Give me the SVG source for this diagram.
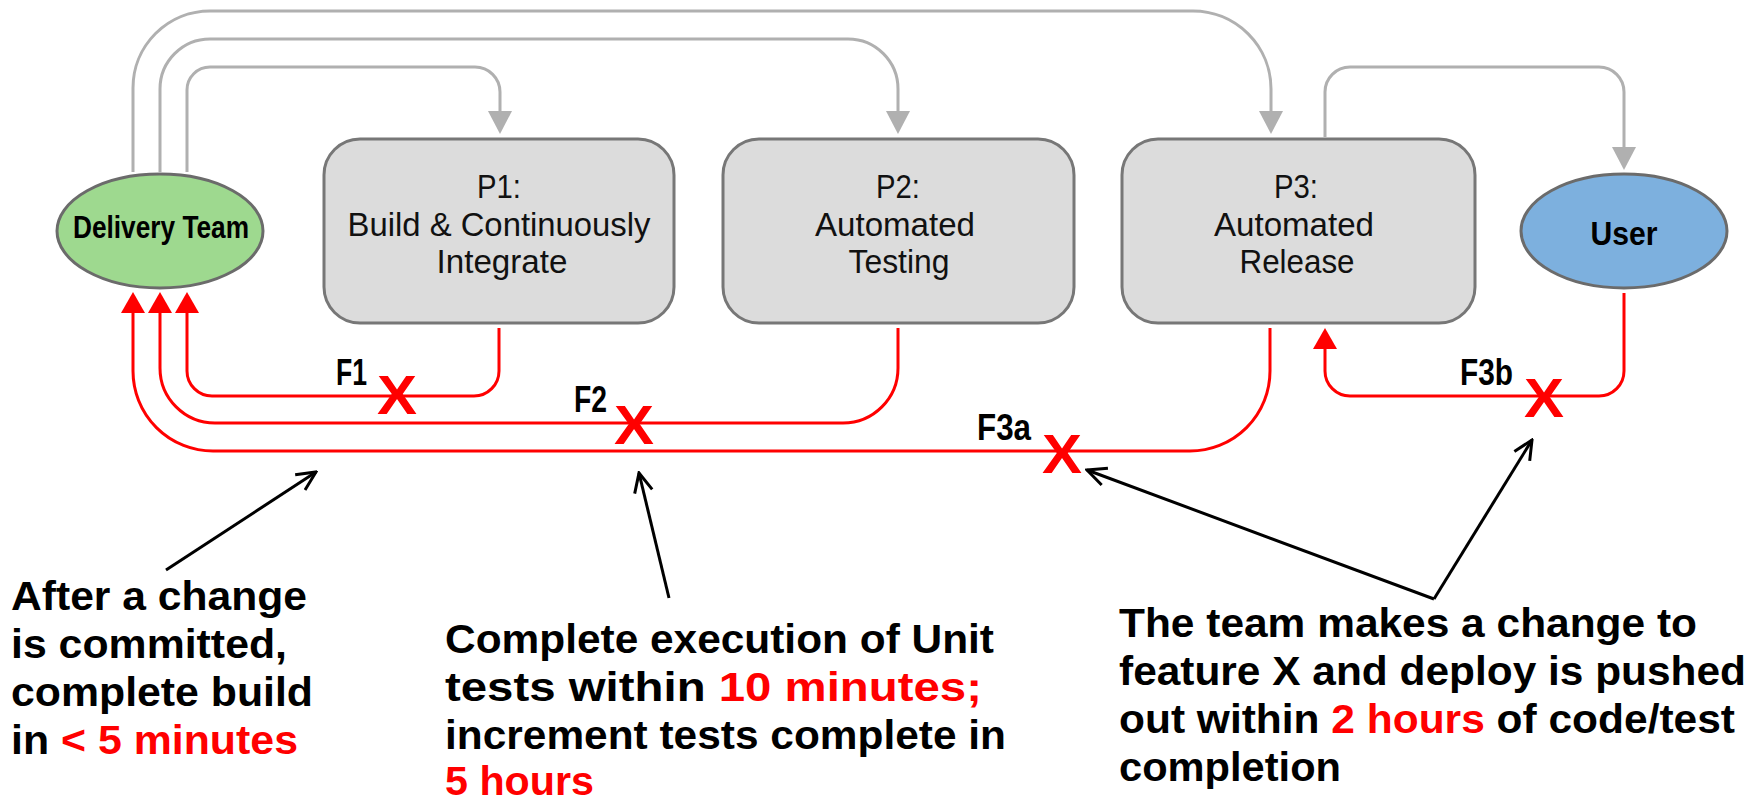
<svg xmlns="http://www.w3.org/2000/svg" width="1764" height="802" viewBox="0 0 1764 802">
<style>
text{font-family:"Liberation Sans",Arial,sans-serif;}
.box{fill:#dcdcdc;stroke:#777777;stroke-width:3;}
.ell{stroke:#6b6b6b;stroke-width:3;}
.ptxt{font-size:33px;fill:#111;text-anchor:middle;}
.ntxt{font-size:31px;font-weight:bold;fill:#000;text-anchor:middle;}
.gray{fill:none;stroke:#b0b0b0;stroke-width:3;marker-end:url(#ga);}
.red{fill:none;stroke:#ff0000;stroke-width:3;marker-end:url(#ra);}
.blk{fill:none;stroke:#000;stroke-width:3;marker-end:url(#ba);}
.flbl{font-size:36px;font-weight:bold;fill:#000;}
.xm{font-size:56px;font-weight:bold;fill:#ff0000;text-anchor:middle;}
.note{font-size:41px;font-weight:bold;fill:#000;}
.hl{fill:#ff0000;}
</style>
<defs>
<marker id="ga" markerUnits="userSpaceOnUse" viewBox="0 0 23 24" markerWidth="23" markerHeight="24" refX="13" refY="12" orient="auto"><path d="M0,0 L23,12 L0,24 Z" fill="#b0b0b0"/></marker>
<marker id="ra" markerUnits="userSpaceOnUse" viewBox="0 0 21 24" markerWidth="21" markerHeight="24" refX="11" refY="12" orient="auto"><path d="M0,0 L21,12 L0,24 Z" fill="#ff0000"/></marker>
<marker id="ba" markerUnits="userSpaceOnUse" viewBox="0 0 22 22" markerWidth="22" markerHeight="22" refX="20" refY="11" orient="auto"><path d="M1,2 L20,11 L1,20" fill="none" stroke="#000" stroke-width="3"/></marker>
</defs>
<rect width="1764" height="802" fill="#ffffff"/>

<g id="connectors">
<path class="gray" d="M133,172 V88 A77,77 0 0 1 210,11 H1193 A78,78 0 0 1 1271,89 V124"/>
<path class="gray" d="M160,172 V89 A50,50 0 0 1 210,39 H848 A50,50 0 0 1 898,89 V124"/>
<path class="gray" d="M187,172 V90 A23,23 0 0 1 210,67 H475 A25,25 0 0 1 500,92 V124"/>
<path class="gray" d="M1325,137 V92 A25,25 0 0 1 1350,67 H1599 A25,25 0 0 1 1624,92 V160"/>
<path class="red" d="M499,328 V371 A25,25 0 0 1 474,396 H212 A25,25 0 0 1 187,371 V302"/>
<path class="red" d="M898,328 V368 A55,55 0 0 1 843,423 H215 A55,55 0 0 1 160,368 V302"/>
<path class="red" d="M1270,328 V371 A80,80 0 0 1 1190,451 H213 A80,80 0 0 1 133,371 V302"/>
<path class="red" d="M1624,293 V371 A25,25 0 0 1 1599,396 H1350 A25,25 0 0 1 1325,371 V338"/>
<text class="flbl" x="336" y="385" textLength="31" lengthAdjust="spacingAndGlyphs">F1</text>
<text class="flbl" x="574" y="412" textLength="33" lengthAdjust="spacingAndGlyphs">F2</text>
<text class="flbl" x="977" y="440" textLength="54" lengthAdjust="spacingAndGlyphs">F3a</text>
<text class="flbl" x="1460" y="385" textLength="53" lengthAdjust="spacingAndGlyphs">F3b</text>
<text class="xm" x="397" y="414" textLength="40" lengthAdjust="spacingAndGlyphs">X</text>
<text class="xm" x="634" y="444" textLength="40" lengthAdjust="spacingAndGlyphs">X</text>
<text class="xm" x="1062" y="473" textLength="40" lengthAdjust="spacingAndGlyphs">X</text>
<text class="xm" x="1544" y="417" textLength="40" lengthAdjust="spacingAndGlyphs">X</text>
<path class="blk" d="M166,570 L316,472"/>
<path class="blk" d="M669,598 L639,473"/>
<path class="blk" d="M1434,599 L1087,470"/>
<path class="blk" d="M1434,599 L1532,440"/>
</g>

<g id="delivery-team">
<ellipse class="ell" cx="160" cy="231" rx="103" ry="57" fill="#9ed98f"/>
<text class="ntxt" x="161" y="238" textLength="176" lengthAdjust="spacingAndGlyphs">Delivery Team</text>
</g>
<g id="p1">
<rect class="box" x="324" y="139" width="350" height="184" rx="36"/>
<text class="ptxt" x="499" y="198" textLength="44" lengthAdjust="spacingAndGlyphs">P1:</text>
<text class="ptxt" x="499" y="236" textLength="303" lengthAdjust="spacingAndGlyphs">Build &amp; Continuously</text>
<text class="ptxt" x="502" y="273" textLength="131" lengthAdjust="spacingAndGlyphs">Integrate</text>
</g>
<g id="p2">
<rect class="box" x="723" y="139" width="351" height="184" rx="36"/>
<text class="ptxt" x="898" y="198" textLength="44" lengthAdjust="spacingAndGlyphs">P2:</text>
<text class="ptxt" x="895" y="236" textLength="160" lengthAdjust="spacingAndGlyphs">Automated</text>
<text class="ptxt" x="899" y="273" textLength="101" lengthAdjust="spacingAndGlyphs">Testing</text>
</g>
<g id="p3">
<rect class="box" x="1122" y="139" width="353" height="184" rx="36"/>
<text class="ptxt" x="1296" y="198" textLength="44" lengthAdjust="spacingAndGlyphs">P3:</text>
<text class="ptxt" x="1294" y="236" textLength="160" lengthAdjust="spacingAndGlyphs">Automated</text>
<text class="ptxt" x="1297" y="273" textLength="115" lengthAdjust="spacingAndGlyphs">Release</text>
</g>
<g id="user">
<ellipse class="ell" cx="1624" cy="231" rx="103" ry="57" fill="#7db0de"/>
<text class="ntxt" x="1624" y="245" style="font-size:34px" textLength="67" lengthAdjust="spacingAndGlyphs">User</text>
</g>

<g id="note-build">
<text class="note" x="11" y="610" textLength="296" lengthAdjust="spacingAndGlyphs">After a change</text>
<text class="note" x="11" y="658" textLength="276" lengthAdjust="spacingAndGlyphs">is committed,</text>
<text class="note" x="11" y="706" textLength="302" lengthAdjust="spacingAndGlyphs">complete build</text>
<text class="note" x="11" y="754" textLength="287" lengthAdjust="spacingAndGlyphs">in <tspan class="hl">&lt; 5 minutes</tspan></text>
</g>
<g id="note-tests">
<text class="note" x="445" y="653" textLength="549" lengthAdjust="spacingAndGlyphs">Complete execution of Unit</text>
<text class="note" x="445" y="701" textLength="537" lengthAdjust="spacingAndGlyphs">tests within <tspan class="hl">10 minutes;</tspan></text>
<text class="note" x="445" y="749" textLength="561" lengthAdjust="spacingAndGlyphs">increment tests complete in</text>
<text class="note hl" x="445" y="795" textLength="149" lengthAdjust="spacingAndGlyphs">5 hours</text>
</g>
<g id="note-release">
<text class="note" x="1119" y="637" textLength="578" lengthAdjust="spacingAndGlyphs">The team makes a change to</text>
<text class="note" x="1119" y="685" textLength="627" lengthAdjust="spacingAndGlyphs">feature X and deploy is pushed</text>
<text class="note" x="1119" y="733" textLength="616" lengthAdjust="spacingAndGlyphs">out within <tspan class="hl">2 hours</tspan> of code/test</text>
<text class="note" x="1119" y="781" textLength="222" lengthAdjust="spacingAndGlyphs">completion</text>
</g>
</svg>
